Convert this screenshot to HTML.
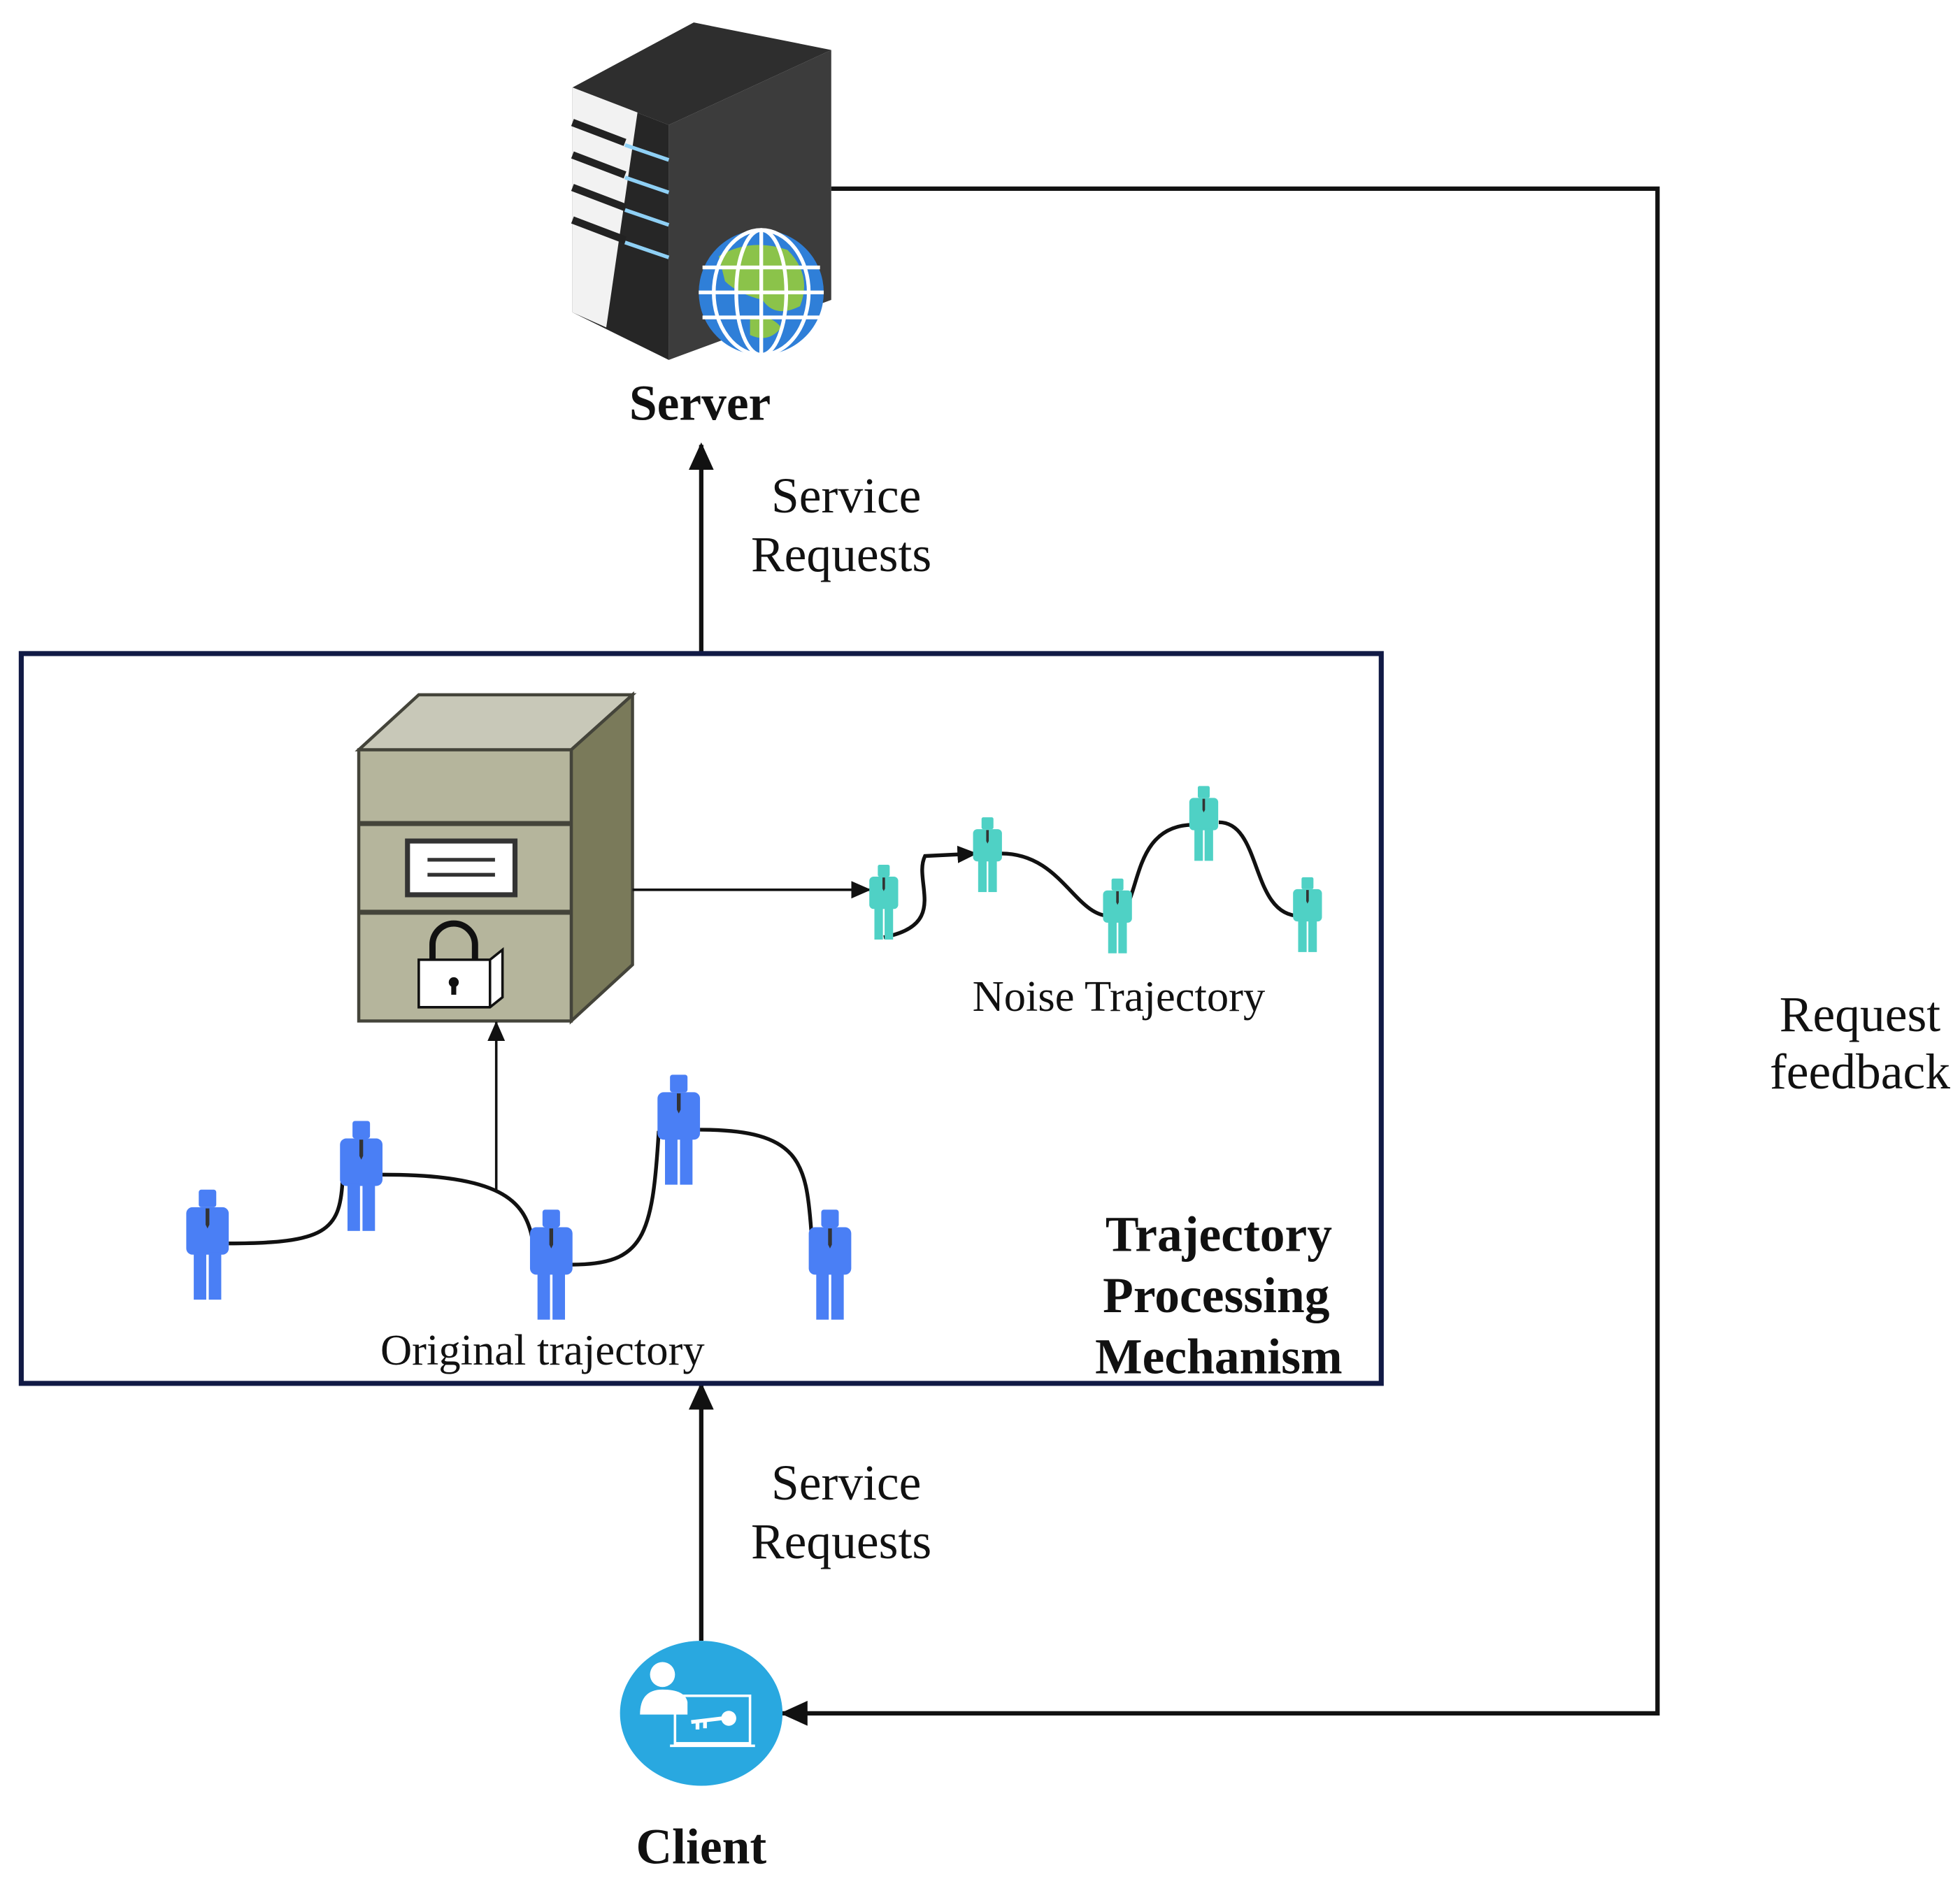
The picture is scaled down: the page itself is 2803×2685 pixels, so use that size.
<!DOCTYPE html>
<html><head><meta charset="utf-8"><style>html,body{margin:0;padding:0;background:#fff}svg{display:block}</style></head>
<body>
<svg width="2803" height="2685" viewBox="0 0 1568 1502" xmlns="http://www.w3.org/2000/svg">
<defs>
<marker id="ahb" markerWidth="22" markerHeight="20" refX="20" refY="10" orient="auto" markerUnits="userSpaceOnUse"><path d="M0,0 L22,10 L0,20 z" fill="#111"/></marker>
<marker id="ahs" markerWidth="16" markerHeight="14" refX="15" refY="7" orient="auto" markerUnits="userSpaceOnUse"><path d="M0,0 L16,7 L0,14 z" fill="#111"/></marker>
<g id="p">
<rect x="-7" y="0" width="14" height="14" rx="2"/>
<rect x="-17" y="14" width="34" height="38" rx="5"/>
<rect x="-11" y="50" width="10" height="38"/>
<rect x="1" y="50" width="10" height="38"/>
<path d="M-1.5,15 L1.5,15 L1.5,28 L0,31 L-1.5,28z" fill="#333"/>
</g>
</defs>
<rect width="1568" height="1502" fill="#fff"/>

<!-- server -->
<polygon points="458,70 555,18 665,40 535,100" fill="#2e2e2e"/>
<polygon points="535,100 665,40 665,240 535,288" fill="#3c3c3c"/>
<polygon points="458,70 535,100 535,288 458,250" fill="#262626"/>
<polygon points="458,70 510,90 485,262 458,250" fill="#f2f2f2"/>
<g stroke="#222" stroke-width="6"><line x1="458" y1="98" x2="500" y2="114"/><line x1="458" y1="124" x2="500" y2="140"/><line x1="458" y1="150" x2="500" y2="166"/><line x1="458" y1="176" x2="500" y2="192"/></g>
<g stroke="#8fd0f5" stroke-width="3"><line x1="500" y1="116" x2="535" y2="128"/><line x1="500" y1="142" x2="535" y2="154"/><line x1="500" y1="168" x2="535" y2="180"/><line x1="500" y1="194" x2="535" y2="206"/></g>
<circle cx="609" cy="234" r="50" fill="#2f7fd8"/>
<path d="M575,205 Q600,190 630,200 Q650,220 640,245 Q620,255 610,240 Q590,235 580,225z" fill="#8bc34a"/>
<path d="M600,255 Q615,250 625,262 Q615,275 600,268z" fill="#8bc34a"/>
<g stroke="#fff" stroke-width="3" fill="none"><ellipse cx="609" cy="234" rx="20" ry="50"/><ellipse cx="609" cy="234" rx="38" ry="50"/><line x1="562" y1="214" x2="656" y2="214"/><line x1="559" y1="234" x2="659" y2="234"/><line x1="562" y1="254" x2="656" y2="254"/><line x1="609" y1="184" x2="609" y2="284"/></g>

<g font-family="Liberation Serif, serif" fill="#111">
<text x="560" y="336" font-size="40" font-weight="bold" text-anchor="middle">Server</text>
<text x="677" y="410" font-size="40" text-anchor="middle">Service</text>
<text x="673" y="457" font-size="40" text-anchor="middle">Requests</text>
<text x="677" y="1200" font-size="40" text-anchor="middle">Service</text>
<text x="673" y="1247" font-size="40" text-anchor="middle">Requests</text>
<text x="1488" y="825" font-size="40" text-anchor="middle">Request</text>
<text x="1488" y="871" font-size="40" text-anchor="middle">feedback</text>
<text x="561" y="1491" font-size="40" font-weight="bold" text-anchor="middle">Client</text>
<text x="895" y="809" font-size="35" text-anchor="middle">Noise Trajectory</text>
<text x="434" y="1092" font-size="35" text-anchor="middle">Original trajectory</text>
<text x="975" y="1001" font-size="40" font-weight="bold" text-anchor="middle">Trajectory</text>
<text x="973" y="1050" font-size="40" font-weight="bold" text-anchor="middle">Processing</text>
<text x="975" y="1099" font-size="40" font-weight="bold" text-anchor="middle">Mechanism</text>
</g>

<!-- connectors -->
<g stroke="#111" stroke-width="3.5" fill="none">
<line x1="561" y1="522" x2="561" y2="356" marker-end="url(#ahb)"/>
<line x1="561" y1="1313" x2="561" y2="1108" marker-end="url(#ahb)"/>
<polyline points="665,151 1326,151 1326,1371 626,1371" marker-end="url(#ahb)"/>
</g>
<rect x="17" y="523" width="1088" height="584" fill="none" stroke="#111a45" stroke-width="4"/>

<!-- cabinet -->
<g stroke="#44443a" stroke-width="2.5">
<polygon points="287,600 335,556 506,556 457,600" fill="#c8c8b8"/>
<polygon points="457,600 506,556 506,772 457,817" fill="#7a7a5a"/>
<rect x="287" y="600" width="170" height="217" fill="#b5b59c"/>
</g>
<g stroke="#44443a" stroke-width="4"><line x1="287" y1="659" x2="457" y2="659"/><line x1="287" y1="730" x2="457" y2="730"/></g>
<rect x="326" y="673" width="86" height="43" fill="#fff" stroke="#333" stroke-width="4"/>
<g stroke="#333" stroke-width="3"><line x1="342" y1="688" x2="396" y2="688"/><line x1="342" y1="700" x2="396" y2="700"/></g>
<path d="M346,768 V756 A17,17 0 0 1 380,756 V768" fill="none" stroke="#111" stroke-width="5"/>
<polygon points="335,768 392,768 402,760 402,798 392,806 335,806" fill="#fff" stroke="#111" stroke-width="2"/>
<line x1="392" y1="768" x2="392" y2="806" stroke="#111" stroke-width="2"/>
<circle cx="363" cy="786" r="4" fill="#111"/><rect x="361" y="786" width="4" height="10" fill="#111"/>

<g stroke="#111" stroke-width="2" fill="none">
<line x1="506" y1="712" x2="696" y2="712" marker-end="url(#ahs)"/>
<line x1="397" y1="952" x2="397" y2="818" marker-end="url(#ahs)"/>
</g>

<g stroke="#111" stroke-width="3" fill="none">
<path d="M183,995 C260,995 272,985 274,945"/>
<path d="M306,940 C400,940 420,960 426,992"/>
<path d="M457,1012 C515,1012 522,990 527,905"/>
<path d="M560,904 C640,904 645,930 649,985"/>
<path d="M707,750 C760,740 730,705 740,685 L781,683" marker-end="url(#ahs)"/>
<path d="M801,683 C850,683 860,735 890,733 C915,733 900,660 955,660"/>
<path d="M975,658 C1010,658 1000,733 1040,733"/>
</g>

<g fill="#4a7ff5">
<use href="#p" transform="translate(166,952)"/>
<use href="#p" transform="translate(289,897)"/>
<use href="#p" transform="translate(441,968)"/>
<use href="#p" transform="translate(543,860)"/>
<use href="#p" transform="translate(664,968)"/>
</g>
<g fill="#4fd1c5">
<use href="#p" transform="translate(707,692) scale(0.68)"/>
<use href="#p" transform="translate(790,654) scale(0.68)"/>
<use href="#p" transform="translate(894,703) scale(0.68)"/>
<use href="#p" transform="translate(963,629) scale(0.68)"/>
<use href="#p" transform="translate(1046,702) scale(0.68)"/>
</g>

<!-- client -->
<ellipse cx="561" cy="1371" rx="65" ry="58" fill="#29a8e0"/>
<circle cx="530" cy="1340" r="10" fill="#fff"/>
<path d="M512,1372 Q512,1352 530,1352 Q548,1352 550,1362 L550,1372z" fill="#fff"/>
<rect x="540" y="1357" width="60" height="38" fill="none" stroke="#fff" stroke-width="2"/>
<line x1="536" y1="1397" x2="604" y2="1397" stroke="#fff" stroke-width="2"/>
<circle cx="583" cy="1375" r="6" fill="#fff"/>
<path d="M553,1378 L578,1375 M558,1377 V1384 M564,1377 V1383" stroke="#fff" stroke-width="3"/>
</svg>
</body></html>
